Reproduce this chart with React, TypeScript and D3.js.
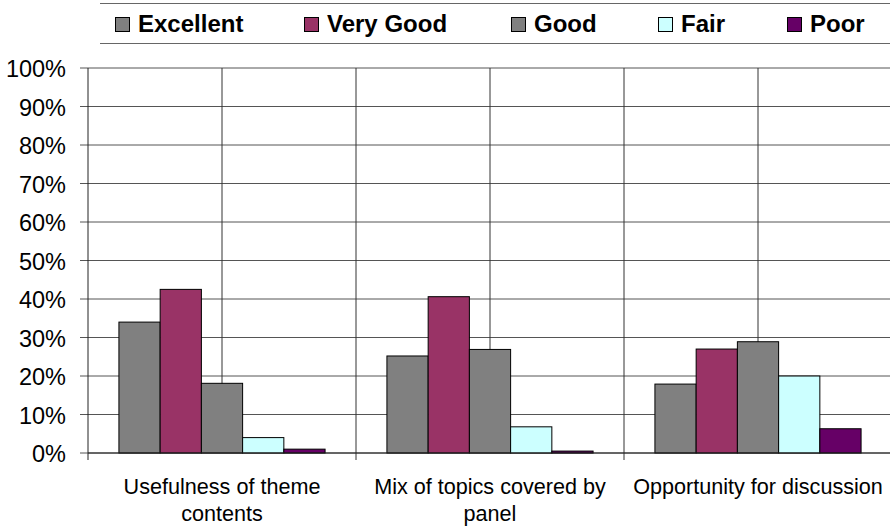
import React from "react";
import * as d3 from "d3";

const categories = [
  "Usefulness of theme contents",
  "Mix of topics covered by panel",
  "Opportunity for discussion",
];
const seriesNames = ["Excellent", "Very Good", "Good", "Fair", "Poor"];
const seriesColors = ["#808080", "#993366", "#808080", "#CCFFFF", "#660066"];
const excellent = [0.34, 0.252, 0.179];
const veryGood = [0.425, 0.406, 0.27];
const good = [0.181, 0.269, 0.289];
const fair = [0.04, 0.068, 0.2];
const poor = [0.01, 0.005, 0.063];
const seriesValues = [excellent, veryGood, good, fair, poor];
const yTicks = [0, 0.1, 0.2, 0.3, 0.4, 0.5, 0.6, 0.7, 0.8, 0.9, 1.0];

const FONT = "'Liberation Sans', Arial, sans-serif";

function wrap(text: string, maxW: number, font: string): string[] {
  const c = document.createElement("canvas").getContext("2d")!;
  c.font = font;
  const words = text.split(" ");
  const lines: string[] = [];
  let cur = "";
  for (const w of words) {
    const t = cur ? cur + " " + w : w;
    if (c.measureText(t).width > maxW && cur) {
      lines.push(cur);
      cur = w;
    } else cur = t;
  }
  if (cur) lines.push(cur);
  return lines;
}

export default function App() {
  const W = 890, H = 530;
  const left = 88, right = 892, top = 68, bottom = 453;
  const y = d3.scaleLinear().domain([0, 1]).range([bottom, top]);
  const x = d3.scaleBand<string>().domain(categories).range([left, right]).padding(0);
  const xs = d3
    .scaleBand<string>()
    .domain(seriesNames)
    .range([0, x.bandwidth()])
    .paddingInner(0)
    .paddingOuter(0.75);
  const bw = x.bandwidth();
  const legendX = [115, 304, 511, 658, 787];
  const labelSize = 21.6;
  const labelFont = `${labelSize}px ${FONT}`;

  return (
    <svg
      width={W}
      height={H}
      style={{ position: "absolute", left: 0, top: 0, background: "#fff" }}
      fontFamily={FONT}
    >
      <rect x={0} y={0} width={W} height={H} fill="#fff" />
      {/* legend */}
      <line x1={100} x2={W} y1={3.5} y2={3.5} stroke="#666" strokeWidth={1.2} />
      <line x1={100} x2={W} y1={43.5} y2={43.5} stroke="#666" strokeWidth={1.2} />
      {seriesNames.map((s, i) => (
        <g key={s}>
          <rect
            x={legendX[i] + 0.5}
            y={17.5}
            width={14}
            height={14}
            fill={seriesColors[i]}
            stroke="#000"
            strokeWidth={1}
          />
          <text x={legendX[i] + 23} y={32} fontSize={24} fontWeight="bold" fill="#000">
            {s}
          </text>
        </g>
      ))}
      {/* horizontal gridlines */}
      {yTicks.map((t) => (
        <g key={t}>
          <line x1={left - 8} x2={W} y1={y(t)} y2={y(t)} stroke="#555" strokeWidth={1} />
          <text x={66} y={y(t) + 9} fontSize={23.5} textAnchor="end" fill="#000">
            {Math.round(t * 100) + "%"}
          </text>
        </g>
      ))}
      {/* vertical gridlines */}
      {categories.map((c) => (
        <g key={c}>
          <line
            x1={x(c)! + bw / 2}
            x2={x(c)! + bw / 2}
            y1={top}
            y2={bottom}
            stroke="#333"
            strokeWidth={1}
          />
          <line
            x1={x(c)! + bw}
            x2={x(c)! + bw}
            y1={top}
            y2={bottom + 7}
            stroke="#333"
            strokeWidth={1}
          />
        </g>
      ))}
      {/* y axis */}
      <line x1={left} x2={left} y1={top} y2={bottom + 7} stroke="#222" strokeWidth={1} />
      {/* bars */}
      {categories.map((c, ci) => (
        <g key={c} transform={`translate(${x(c)},0)`}>
          {seriesNames.map((s, si) => {
            const v = seriesValues[si][ci];
            return (
              <rect
                key={s}
                x={xs(s)!}
                y={y(v)}
                width={xs.bandwidth()}
                height={bottom - y(v)}
                fill={seriesColors[si]}
                stroke="#000"
                strokeWidth={1}
              />
            );
          })}
        </g>
      ))}
      {/* baseline */}
      <line x1={left} x2={W} y1={bottom} y2={bottom} stroke="#222" strokeWidth={1} />
      {/* category labels */}
      {categories.map((c) => {
        const lines = wrap(c, 262, labelFont);
        return (
          <text
            key={c}
            x={x(c)! + bw / 2}
            y={494}
            fontSize={labelSize}
            textAnchor="middle"
            fill="#000"
          >
            {lines.map((l, i) => (
              <tspan key={i} x={x(c)! + bw / 2} dy={i === 0 ? 0 : 27}>
                {l}
              </tspan>
            ))}
          </text>
        );
      })}
    </svg>
  );
}
